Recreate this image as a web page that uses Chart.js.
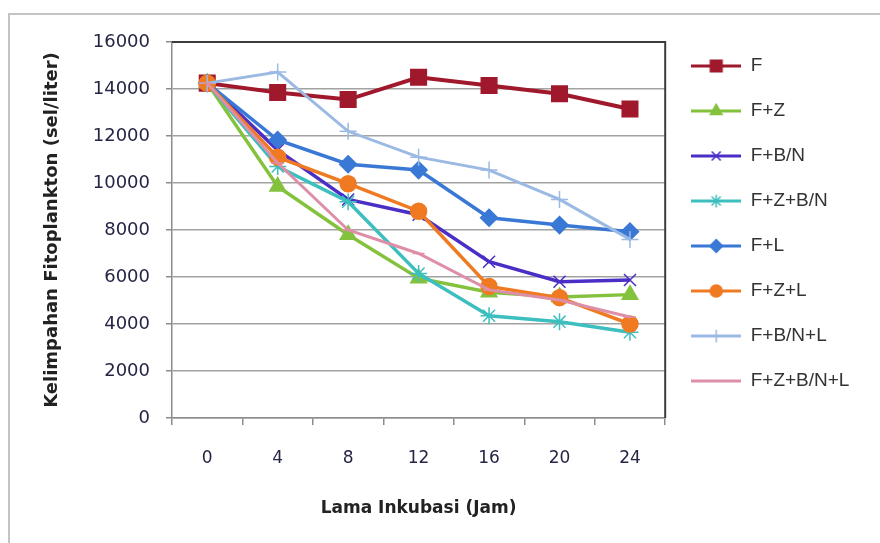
<!DOCTYPE html>
<html>
<head>
<meta charset="utf-8">
<script src="https://cdn.jsdelivr.net/npm/chart.js@4/dist/chart.umd.min.js"></script>
<style>
  body { margin: 0; background: #fff; overflow: hidden; }
  canvas { display: block; }
</style>
</head>
<body>
<canvas id="kelimpahanChart" width="880" height="543"></canvas>
<script>
//SETUP
const jam = ['0', '4', '8', '12', '16', '20', '24'];
const seriesNames = ['F', 'F+Z', 'F+B/N', 'F+Z+B/N', 'F+L', 'F+Z+L', 'F+B/N+L', 'F+Z+B/N+L'];

const F        = [14250, 13850, 13550, 14500, 14150, 13800, 13150];
const FZ       = [14250,  9850,  7800,  5950,  5350,  5150,  5250];
const FBN      = [14250, 11400,  9300,  8650,  6650,  5800,  5870];
const FZBN     = [14250, 10700,  9200,  6150,  4350,  4100,  3650];
const FL       = [14250, 11830, 10800, 10550,  8520,  8210,  7930];
const FZL      = [14250, 11100,  9970,  8800,  5600,  5120,  4000];
const FBNL     = [14250, 14720, 12200, 11100, 10550,  9300,  7600];
const FZBNL    = [14250, 10850,  8000,  7000,  5450,  5020,  4300];

const yTicks = [0, 2000, 4000, 6000, 8000, 10000, 12000, 14000, 16000];
//SETUP

// colours + markers, excel-ish
const seriesValues = [F, FZ, FBN, FZBN, FL, FZL, FBNL, FZBNL];
const colors  = ['#a0182c', '#84c23e', '#4a2ec6', '#3cbfbe', '#3a78d6', '#ef7a22', '#9ab9e3', '#dd8fa8'];
const markers = ['rect', 'triangle', 'crossRot', 'star', 'rectRot', 'circle', 'cross', 'line'];
const radius  = [11, 9, 8.5, 8.5, 8.5, 8, 8.5, 6];
const widths  = [4, 3.5, 3.5, 3.5, 3.5, 3.5, 3, 3];

const legendFont = 19;
const legendPad = 26;

// small line+marker pictures for the legend
function legendIcon(i) {
  const c = document.createElement('canvas');
  c.width = 50;
  c.height = 18;
  const g = c.getContext('2d');
  g.strokeStyle = colors[i];
  g.fillStyle = colors[i];
  g.lineWidth = 3;
  g.beginPath();
  g.moveTo(0, 9);
  g.lineTo(50, 9);
  g.stroke();
  g.lineWidth = 1.5;
  Chart.helpers.drawPoint(g, {pointStyle: markers[i], radius: radius[i] * 0.75, rotation: 0, borderWidth: 1.5}, 25, 9);
  return c;
}
const icons = seriesNames.map((n, i) => legendIcon(i));

// legend width (measured, +18 found by trying) -> right padding so plot ends at 666
const m = document.createElement('canvas').getContext('2d');
m.font = legendFont + 'px DejaVu Sans';
const longest = Math.max(...seriesNames.map(n => m.measureText(n).width));
const legendW = 50 + legendFont / 2 + longest + 18;
const rightPad = Math.max(0, 880 - 666 - legendW);

const datasets = seriesNames.map((name, i) => ({
  label: name,
  data: seriesValues[i],
  borderColor: colors[i],
  backgroundColor: colors[i],
  borderWidth: widths[i],
  pointStyle: markers[i],
  pointRadius: radius[i],
  pointBorderWidth: 1.5,
  pointBorderColor: colors[i],
  pointBackgroundColor: colors[i],
  tension: 0,
  order: seriesNames.length - i
}));

// frame: outer light border + dark top/right edge of plot
const frame = {
  id: 'frame',
  beforeDraw(chart) {
    const ctx = chart.ctx;
    ctx.save();
    ctx.fillStyle = '#fff';
    ctx.fillRect(0, 0, chart.width, chart.height);
    ctx.strokeStyle = '#c4c4c4';
    ctx.lineWidth = 2;
    ctx.beginPath();
    ctx.moveTo(9, chart.height);
    ctx.lineTo(9, 14);
    ctx.lineTo(chart.width, 14);
    ctx.stroke();
    ctx.restore();
  },
  beforeDatasetsDraw(chart) {
    const a = chart.chartArea;
    const ctx = chart.ctx;
    ctx.save();
    ctx.strokeStyle = '#3c3c3c';
    ctx.lineWidth = 2;
    ctx.beginPath();
    ctx.moveTo(a.left, a.top);
    ctx.lineTo(a.right, a.top);
    ctx.lineTo(a.right, a.bottom);
    ctx.stroke();
    ctx.restore();
  }
};

//CONFIGURE
const config = {
  type: 'line',
  data: { labels: jam, datasets: datasets },
  options: {
    responsive: false,
    animation: false,
    font: { family: 'DejaVu Sans' },
    layout: { padding: { top: 0, left: 0, bottom: 0, right: rightPad } },
    scales: {
      x: {
        type: 'category',
        offset: true,
        grid: { offset: true, drawOnChartArea: false, drawTicks: true, tickLength: 7, tickColor: '#8c8c8c', lineWidth: 1.5 },
        border: { color: '#8c8c8c', width: 1.5 },
        ticks: { color: '#252545', padding: 23, font: { size: 17 } },
        title: {
          display: true,
          text: 'Lama Inkubasi (Jam)',
          color: '#222',
          font: { size: 17, weight: 'bold' },
          padding: { top: 0, bottom: 24 }
        },
        afterFit: s => { s.height = 125; }
      },
      y: {
        min: 0,
        max: 16000,
        afterBuildTicks: s => { s.ticks = yTicks.map(v => ({ value: v })); },
        grid: { color: '#a2a2a2', lineWidth: 1.5, tickLength: 6, tickColor: '#8c8c8c' },
        border: { color: '#8c8c8c', width: 1.5 },
        ticks: { color: '#252545', padding: 16, font: { size: 18 }, callback: v => String(v) },
        title: {
          display: true,
          text: 'Kelimpahan Fitoplankton (sel/liter)',
          color: '#222',
          font: { size: 18, weight: 'bold' },
          padding: { top: 42, bottom: 0 }
        },
        afterFit: s => { s.width = 172; }
      }
    },
    plugins: {
      title: { display: true, text: '', font: { size: 10 }, padding: { top: 30, bottom: 0 } },
      tooltip: { enabled: false },
      legend: {
        position: 'right',
        align: 'start',
        title: { display: true, text: '', font: { size: 10 }, padding: { top: 18.5, bottom: 0 } },
        labels: {
          usePointStyle: true,
          pointStyleWidth: 50,
          padding: legendPad,
          color: '#333',
          font: { size: legendFont },
          generateLabels: chart => chart.data.datasets.map((ds, i) => ({
            text: ds.label,
            pointStyle: icons[i],
            fillStyle: colors[i],
            strokeStyle: colors[i],
            lineWidth: 0,
            hidden: false,
            datasetIndex: i,
            fontColor: '#333'
          }))
        }
      }
    }
  },
  plugins: [frame]
};
//CONFIGURE

//IMPLEMENT
const kelimpahanChart = new Chart(document.getElementById('kelimpahanChart'), config);
//IMPLEMENT
</script>
</body>
</html>
